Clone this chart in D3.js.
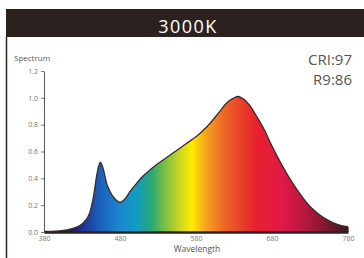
<!DOCTYPE html>
<html><head><meta charset="utf-8">
<script src="https://cdn.jsdelivr.net/npm/d3@7"></script>
<style>body{margin:0;background:#fff}svg{display:block}</style>
</head><body>
<script>
const wavelengths = [380,390,400,410,420,430,440,445,450,454,458,462,467,473,480,487,493,500,510,520,530,540,550,560,570,580,590,600,610,620,630,635,640,650,660,670,680,690,700,710,720,730,740,750,760,770,780];
const intensity   = [0.005,0.005,0.008,0.015,0.03,0.06,0.14,0.26,0.44,0.52,0.47,0.37,0.30,0.25,0.22,0.25,0.30,0.35,0.415,0.465,0.51,0.55,0.59,0.63,0.67,0.71,0.76,0.82,0.89,0.96,1.0,1.01,1.0,0.95,0.86,0.76,0.64,0.53,0.43,0.34,0.26,0.19,0.14,0.10,0.07,0.05,0.04];
const yTicks = [0,0.2,0.4,0.6,0.8,1.0,1.2];
const xTicks = [380,480,580,680,780];
const title = "3000K";
const cri = "CRI:97";
const r9 = "R9:86";

const gradWl   = [380,415,435,455,480,502,522,540,560,575,590,615,640,660,695,720,750,780];
const gradCol  = ["#1a1430","#1c1a5a","#1e3a9a","#1a62bc","#1a88d0","#129cc0","#2aa872","#80c040","#d0d820","#ffec00","#f6ae1e","#ee6a25","#e8402a","#e8202e","#e01848","#bc1840","#801830","#3a1820"];

const W = 364, H = 258;
const svg = d3.select("body").append("svg").attr("width", W).attr("height", H);
const x = d3.scaleLinear().domain([380,780]).range([44,348]);
const y = d3.scaleLinear().domain([0,1.2]).range([232,71]);

// header
svg.append("rect").attr("x",6).attr("y",9).attr("width",W-6).attr("height",28).attr("fill","#2b2220");
svg.append("text").attr("x",188).attr("y",33).attr("text-anchor","middle")
  .attr("font-family","Open Sans").attr("font-size",18).attr("letter-spacing",1.5)
  .attr("fill","#fff").text(title);
// left border
svg.append("line").attr("x1",6.5).attr("x2",6.5).attr("y1",37).attr("y2",H).attr("stroke","#2b2220").attr("stroke-width",1.5);

// gradient
const defs = svg.append("defs");
const grad = defs.append("linearGradient").attr("id","spec").attr("gradientUnits","userSpaceOnUse")
  .attr("x1",x(380)).attr("x2",x(780)).attr("y1",0).attr("y2",0);
gradWl.forEach((w,i)=>grad.append("stop").attr("offset",(w-380)/400).attr("stop-color",gradCol[i]));

const data = wavelengths.map((w,i)=>({w, v:intensity[i]}));
const area = d3.area().x(d=>x(d.w)).y0(y(0)).y1(d=>y(d.v)).curve(d3.curveMonotoneX);
const line = d3.line().x(d=>x(d.w)).y(d=>y(d.v)).curve(d3.curveMonotoneX);
svg.append("path").attr("d",area(data)).attr("fill","url(#spec)");
svg.append("path").attr("d",line(data)).attr("fill","none").attr("stroke","#3a2c2a").attr("stroke-width",1.3);
// right edge
svg.append("line").attr("x1",x(780)).attr("x2",x(780)).attr("y1",y(0)).attr("y2",y(intensity[intensity.length-1]))
  .attr("stroke","#3a2c2a").attr("stroke-width",1.3);

// y axis
const ya = svg.append("g").attr("transform","translate(44,0)")
  .call(d3.axisLeft(y).tickValues(yTicks).tickFormat(d3.format(".1f")).tickSize(3).tickSizeOuter(0));
ya.select(".domain").attr("stroke","#555").attr("stroke-width",1);
ya.selectAll(".tick line").attr("stroke","#777");
ya.selectAll("text").attr("font-family","Open Sans").attr("font-size",7).attr("fill","#777");

// x axis
const xa = svg.append("g").attr("transform","translate(0,232)")
  .call(d3.axisBottom(x).tickValues(xTicks).tickSize(0).tickPadding(4).tickFormat(d3.format("d")));
xa.select(".domain").attr("stroke","#2a2220").attr("stroke-width",2.5);
xa.selectAll("text").attr("font-family","Open Sans").attr("font-size",7).attr("fill","#777");

svg.append("text").attr("x",197).attr("y",252).attr("text-anchor","middle")
  .attr("font-family","Open Sans").attr("font-size",8.5).attr("fill","#555").text("Wavelength");
svg.append("text").attr("x",14).attr("y",61)
  .attr("font-family","Open Sans").attr("font-size",8).attr("fill","#555").text("Spectrum");
svg.append("text").attr("x",352).attr("y",65).attr("text-anchor","end")
  .attr("font-family","Open Sans").attr("font-size",15).attr("fill","#555").text(cri);
svg.append("text").attr("x",352).attr("y",85).attr("text-anchor","end")
  .attr("font-family","Open Sans").attr("font-size",15).attr("fill","#555").text(r9);
</script>
</body></html>
